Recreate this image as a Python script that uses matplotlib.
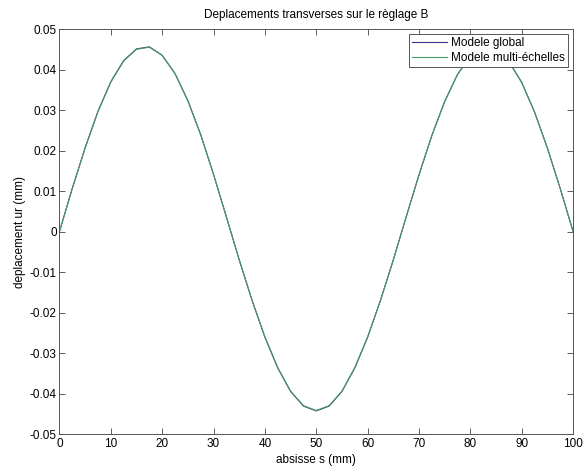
import matplotlib
matplotlib.use("Agg")
import matplotlib.pyplot as plt

# abscisse s (mm)
s = [i * 2.5 for i in range(41)]

# deplacement ur (mm) - modele global
ur_global = [0.0, 0.0107, 0.0207, 0.0297, 0.0370, 0.0422, 0.0451, 0.0456, 0.0435,
             0.0390, 0.0323, 0.0239, 0.0141, 0.0036, -0.0070, -0.0170, -0.0261,
             -0.0337, -0.0395, -0.0431, -0.0443, -0.0431, -0.0395, -0.0337, -0.0261,
             -0.0170, -0.0070, 0.0036, 0.0140, 0.0237, 0.0321, 0.0388, 0.0433,
             0.0454, 0.0449, 0.0420, 0.0368, 0.0295, 0.0206, 0.0106, 0.0]

# deplacement ur (mm) - modele multi-echelles
ur_multi = [0.0, 0.0106, 0.0206, 0.0296, 0.0369, 0.0421, 0.0450, 0.0455, 0.0435,
            0.0390, 0.0323, 0.0239, 0.0141, 0.0036, -0.0070, -0.0170, -0.0260,
            -0.0336, -0.0394, -0.0430, -0.0442, -0.0430, -0.0394, -0.0336, -0.0260,
            -0.0170, -0.0070, 0.0036, 0.0140, 0.0237, 0.0321, 0.0388, 0.0433,
            0.0453, 0.0448, 0.0419, 0.0368, 0.0295, 0.0206, 0.0106, 0.0]

xticks = [0, 10, 20, 30, 40, 50, 60, 70, 80, 90, 100]
yticks = [-0.05, -0.04, -0.03, -0.02, -0.01, 0, 0.01, 0.02, 0.03, 0.04, 0.05]
ytick_labels = ["-0.05", "-0.04", "-0.03", "-0.02", "-0.01", "0",
                "0.01", "0.02", "0.03", "0.04", "0.05"]

plt.rcParams['font.family'] = ['Liberation Sans', 'DejaVu Sans']
plt.rcParams['font.size'] = 8.5

fig = plt.figure(figsize=(5.83, 4.69), dpi=100)
ax = fig.add_axes([0.102, 0.0746, 0.881, 0.8635])

ax.plot(s, ur_global, color="#34348a", lw=0.8, label="Modele global")
ax.plot(s, ur_multi, color="#4a9a66", lw=0.8, label="Modele multi-échelles")

ax.set_xlim(0, 100)
ax.set_ylim(-0.05, 0.05)
ax.set_xticks(xticks)
ax.set_yticks(yticks)
ax.set_yticklabels(ytick_labels)
ax.tick_params(direction="in", top=True, right=True, length=4, width=0.6,
               colors="#444444", labelcolor="black", pad=2)
ax.tick_params(axis="x", pad=3)
for sp in ax.spines.values():
    sp.set_linewidth(0.7)
    sp.set_color("#555555")

ax.set_xlabel("absisse s (mm)", labelpad=3)
ax.set_ylabel("deplacement ur (mm)", labelpad=3)
ax.set_title("Deplacements transverses sur le règlage B", fontsize=8.5, pad=8)

leg = ax.legend(loc="upper right", fontsize=8.5, fancybox=False, framealpha=1,
                edgecolor="#555555", borderaxespad=0.45, handlelength=3.0,
                borderpad=0.25, labelspacing=0.2, handletextpad=0.3)
leg.get_frame().set_linewidth(0.7)

fig.savefig("out.png", dpi=100)
